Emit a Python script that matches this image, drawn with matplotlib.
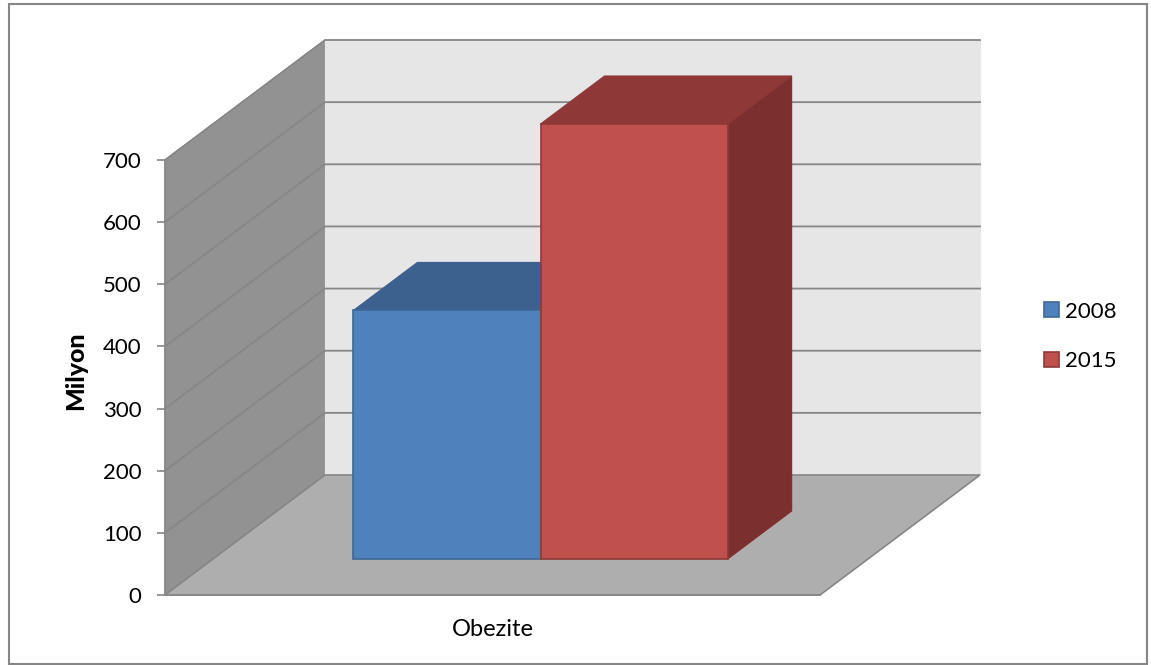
import matplotlib
matplotlib.use("Agg")
import matplotlib.pyplot as plt
from matplotlib.patches import Patch, Polygon, Rectangle

categories = ["Obezite"]
series_names = ["2008", "2015"]
series_values = [400, 700]
y_ticks = [0, 100, 200, 300, 400, 500, 600, 700]

FACE = ["#4f81bd", "#c0504d"]
EDGE = ["#3f6797", "#8e3a38"]
TOP = ["#3c618f", "#8e3938"]
SIDE = ["#35557c", "#7b302f"]
GRID = "#868686"

# oblique projection: how far one full unit of depth shifts a point, in data units
DX = 160 / 655
DY = 120 / 435 * 700
BAR_W = 2 / 7
BAR_D = (0.3, 0.7)

plt.rcParams["font.family"] = ["Lato", "DejaVu Sans"]


def proj(x, y, d):
    return (x + d * DX, y + d * DY)


def face(ax, pts, color, edge=None, z=1, lw=0.8):
    ax.add_patch(Polygon([proj(*p) for p in pts], closed=True, facecolor=color,
                         edgecolor=edge if edge else color, linewidth=lw,
                         zorder=z, clip_on=False))


W, H = 1151, 665
fig = plt.figure(figsize=(W / 100, H / 100), dpi=100)
fig.patches.append(Rectangle((8.5 / W, 1 - 663.5 / H), 1138 / W, 660 / H,
                             transform=fig.transFigure, facecolor="white",
                             edgecolor=GRID, linewidth=1.5, zorder=-1))
ax = fig.add_axes([165 / W, 1 - 595 / H, 655 / W, 435 / H])
ax.patch.set_visible(False)
ax.set_xlim(0, 1)
ax.set_ylim(0, 700)

# walls and floor
ymax = y_ticks[-1]
face(ax, [(0, 0, 0), (0, 0, 1), (0, ymax, 1), (0, ymax, 0)], "#929292", "#929292", 1)
face(ax, [(0, 0, 1), (1, 0, 1), (1, ymax, 1), (0, ymax, 1)], "#e6e6e6", "#e6e6e6", 1)
face(ax, [(0, 0, 0), (1, 0, 0), (1, 0, 1), (0, 0, 1)], "#aeaeae", GRID, 2, 1.2)

# gridlines run along the side wall and then across the back wall
for t in y_ticks[1:]:
    pts = [proj(0, t, 0), proj(0, t, 1), proj(1, t, 1)]
    ax.plot([p[0] for p in pts], [p[1] for p in pts], color=GRID, lw=1.3,
            zorder=1.5, clip_on=False, solid_joinstyle="miter")

# bars, left to right so that the later one overlaps the earlier side face
left = 0.5 - BAR_W
for i, v in enumerate(series_values):
    x0, x1 = left + i * BAR_W, left + (i + 1) * BAR_W
    d0, d1 = BAR_D
    z = 3 + i
    face(ax, [(x1, 0, d0), (x1, 0, d1), (x1, v, d1), (x1, v, d0)], SIDE[i], SIDE[i], z)
    face(ax, [(x0, v, d0), (x1, v, d0), (x1, v, d1), (x0, v, d1)], TOP[i], TOP[i], z)
    face(ax, [(x0, 0, d0), (x1, 0, d0), (x1, v, d0), (x0, v, d0)], FACE[i], EDGE[i], z + 0.5, 1.2)

for s in ["top", "right"]:
    ax.spines[s].set_visible(False)
ax.spines["left"].set_color(GRID)
ax.spines["left"].set_linewidth(1.2)
ax.spines["bottom"].set_color(GRID)
ax.spines["bottom"].set_linewidth(1.2)
ax.set_yticks(y_ticks)
ax.tick_params(axis="y", length=6, width=1.2, color=GRID, labelsize=16, pad=11)
ax.set_xticks([0.5], categories)
ax.tick_params(axis="x", length=0, labelsize=17, pad=17)
ax.set_ylabel("Milyon", fontsize=18, fontweight="black")
ax.yaxis.set_label_coords((87 - 165) / 655, (595 - 371) / 435)

handles = [Patch(facecolor=FACE[i], edgecolor=EDGE[i], linewidth=1.2) for i in range(2)]
fig.legend(handles, series_names, loc="center left",
           bbox_to_anchor=(1035 / W, 1 - 336.5 / H), frameon=False, fontsize=16,
           handlelength=0.66, handleheight=0.66, handletextpad=0.3,
           labelspacing=1.34, borderpad=0.4, borderaxespad=0)

fig.savefig("out.png", dpi=100)
plt.close(fig)
